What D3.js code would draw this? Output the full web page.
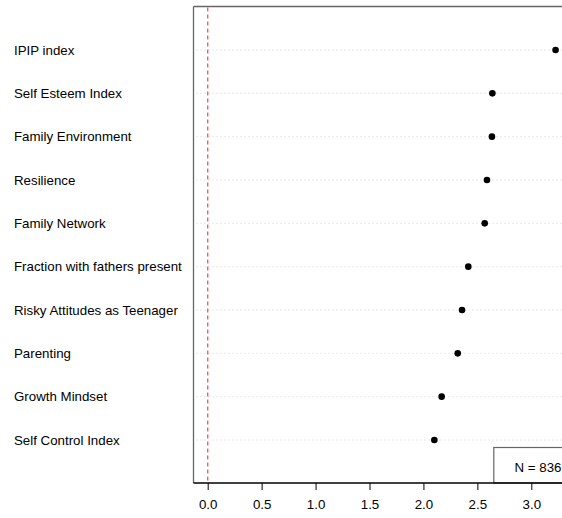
<!DOCTYPE html>
<html><head><meta charset="utf-8">
<script src="https://cdn.jsdelivr.net/npm/d3@7"></script>
<style>body{margin:0;background:#fff}svg{display:block;font-family:"Liberation Sans",Arial,sans-serif}</style>
</head><body>
<script>
const categories = ["IPIP index","Self Esteem Index","Family Environment","Resilience","Family Network","Fraction with fathers present","Risky Attitudes as Teenager","Parenting","Growth Mindset","Self Control Index"];
const values = [3.225,2.639,2.635,2.589,2.568,2.416,2.358,2.318,2.169,2.101];
const xTicks = [0,0.5,1,1.5,2,2.5,3];
const nLabel = "N = 836";

(function(){
const W=562,H=518, FS=13.3;
const svg=d3.select("body").append("svg").attr("width",W).attr("height",H);
const pL=193.5, pT=6.5, pB=483, pR=575;
const x=d3.scaleLinear().domain([0,3]).range([207.7,531.3]);
const y=d3.scalePoint().domain(categories).range([50,440]);

// frame
svg.append("line").attr("x1",pL).attr("x2",pL).attr("y1",pT).attr("y2",pB).attr("stroke","#666").attr("stroke-width",1.3);
svg.append("line").attr("x1",pL).attr("x2",pR).attr("y1",pT).attr("y2",pT).attr("stroke","#666").attr("stroke-width",1.3);

// grid
svg.append("g").selectAll("line").data(categories).join("line")
  .attr("x1",196.5).attr("x2",W).attr("y1",d=>y(d)).attr("y2",d=>y(d))
  .attr("stroke","#c8c8c8").attr("stroke-width",0.8).attr("stroke-dasharray","1,3");

// red zero line
svg.append("line").attr("x1",x(0)).attr("x2",x(0)).attr("y1",pT+1).attr("y2",pB)
  .attr("stroke","#ff5a5a").attr("stroke-width",1.4).attr("stroke-dasharray","4,3");

// points
svg.append("g").selectAll("circle").data(values).join("circle")
  .attr("cx",d=>x(d)).attr("cy",(d,i)=>y(categories[i])).attr("r",3.3).attr("fill","#000");

// labels
svg.append("g").selectAll("text").data(categories).join("text")
  .attr("x",14).attr("y",d=>y(d)).attr("dy","0.35em").attr("font-size",FS).attr("fill","#000").text(d=>d);

// N box
svg.append("rect").attr("x",493.8).attr("y",447.5).attr("width",100).attr("height",pB-447.5)
  .attr("fill","#fff").attr("stroke","#666").attr("stroke-width",1.2);
svg.append("text").attr("x",514.5).attr("y",467).attr("dy","0.35em").attr("font-size",FS).text(nLabel);

// x axis
const ax=svg.append("g").attr("transform",`translate(0,${pB})`)
  .call(d3.axisBottom(x).tickValues(xTicks).tickFormat(d3.format(".1f")).tickSize(7).tickPadding(10));
ax.select(".domain").attr("d",`M${pL},0H${pR}`).attr("stroke","#000").attr("stroke-width",1.3);
ax.selectAll(".tick line").attr("stroke","#000");
ax.selectAll(".tick text").attr("font-size",FS).attr("fill","#000").attr("font-family","Liberation Sans, Arial, sans-serif");
})();
</script>
</body></html>
